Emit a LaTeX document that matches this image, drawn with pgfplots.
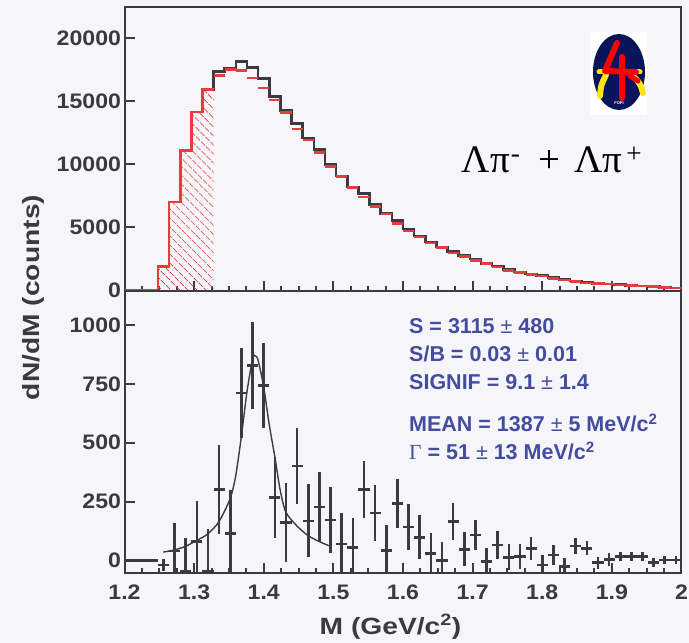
\documentclass[border=0pt]{standalone}
\usepackage{pgfplots}
\usepackage{pgfplotstable}
\pgfplotsset{compat=1.18}
\usetikzlibrary{patterns.meta}
\usepackage{fontspec}
\setmainfont{Liberation Sans}
\newfontfamily\tickfont{Liberation Sans}[FakeStretch=1.1]
\newfontfamily\labfont{Liberation Sans}[FakeStretch=1.2]
\newfontfamily\seriffont{Liberation Serif}
\definecolor{bg}{RGB}{246,246,250}
\definecolor{fr}{RGB}{58,58,64}
\definecolor{hred}{RGB}{232,60,60}
\definecolor{txtblue}{RGB}{68,76,160}
\definecolor{navy}{RGB}{10,20,90}
\definecolor{lyellow}{RGB}{250,230,20}

% top panel: data histogram (bin low edges, counts)
\pgfplotstableread{
x y
1.200 0
1.216 0
1.232 0
1.248 1900
1.264 7000
1.280 11100
1.296 14130
1.312 15890
1.328 17350
1.344 17600
1.360 18130
1.376 17660
1.392 16770
1.408 15370
1.424 14240
1.440 13200
1.456 12080
1.472 11150
1.488 9980
1.504 9080
1.520 8210
1.536 7680
1.552 6810
1.568 6100
1.584 5540
1.600 4880
1.616 4320
1.632 3860
1.648 3450
1.664 3100
1.680 2760
1.696 2500
1.712 2150
1.728 1946
1.744 1653
1.760 1471
1.776 1313
1.792 1179
1.808 1020
1.824 862
1.840 759
1.856 649
1.872 570
1.888 522
1.904 467
1.920 411
1.936 364
1.952 308
1.968 253
1.984 206
2.000 206
}\datahist

% top panel: background (bin centres, counts)
\pgfplotstableread{
x y
1.336 17040
1.352 17480
1.368 17400
1.384 16820
1.400 16020
1.416 15090
1.432 14070
1.448 12800
1.464 11920
1.480 10920
1.496 9820
1.512 9020
1.528 8160
1.544 7390
1.560 6630
1.576 6060
1.592 5320
1.608 4730
1.624 4230
1.640 3780
1.656 3420
1.672 2990
1.688 2710
1.704 2400
1.720 2120
1.736 1880
1.752 1610
1.768 1430
1.784 1270
1.800 1150
1.816 960
1.832 840
1.848 730
1.864 610
1.880 550
1.896 515
1.912 455
1.928 400
1.944 352
1.960 310
1.976 250
1.992 205
}\bghist

% bottom panel: signal (bin centres, counts, error)
\pgfplotstableread{
x y e
1.208 0 0
1.224 0 0
1.240 0 0
1.256 -20 25
1.272 40 118
1.288 -45 142
1.304 80 172
1.320 -45 177
1.336 300 188
1.352 115 185
1.368 711 190
1.384 827 185
1.400 742 181
1.416 268 172
1.432 162 167
1.448 400 161
1.464 168 155
1.480 226 148
1.496 172 141
1.512 70 133
1.528 54 125
1.544 300 121
1.560 201 117
1.576 41 111
1.592 241 105
1.608 141 97
1.624 98 94
1.640 30 85
1.656 -1 81
1.672 165 77
1.688 47 72
1.704 108 65
1.720 -6 60
1.736 65 60
1.752 13 55
1.768 16 52
1.784 51 48
1.800 -20 43
1.816 23 43
1.832 -27 38
1.848 61 33
1.864 51 30
1.880 -10 26
1.896 4 26
1.912 16 20
1.928 16 20
1.944 16 20
1.960 -10 18
1.976 1 17
1.992 1 16
}\sigdata

\pgfplotsset{
  panel/.style={
    scale only axis, width=557pt,
    xmin=1.2, xmax=2.0,
    scaled x ticks=false, scaled y ticks=false,
    axis line style={fr, line width=2pt},
    every tick/.style={fr, line width=2pt},
    major tick length=10pt, minor tick length=5pt,
    tick align=inside, tick pos=left,
    xtick={1.2,1.3,1.4,1.5,1.6,1.7,1.8,1.9,2.0},
    minor x tick num=3,
    ticklabel style={font=\tickfont\bfseries\fontsize{21}{21}\selectfont, text=fr},
    axis background/.style={fill=bg},
    clip=true,
  }
}

\begin{document}
\begin{tikzpicture}[x=1pt,y=1pt]
\fill[bg] (0,0) rectangle (689,643);

% ---------------- top panel
\begin{axis}[panel, at={(124.5pt,352.4pt)}, anchor=south west,
  height=283.3pt, ymin=0, ymax=22413,
  ytick={0,5000,10000,15000,20000},
  yticklabels={0,5000,10000,15000,20000},
  xticklabel=\empty]
  \addplot[draw=none, const plot, pattern={Lines[angle=-45,distance=6.5pt,line width=0.9pt]}, pattern color=hred]
    coordinates {(1.248,1900)(1.264,7000)(1.280,11100)(1.296,14130)(1.312,15890)(1.328,15890)} \closedcycle;
  \addplot[const plot, fr, line width=2.6pt] table[x=x,y=y] {\datahist};
  \addplot[const plot, hred, line width=2.6pt]
    coordinates {(1.200,0)(1.248,1900)(1.264,7000)(1.280,11100)(1.296,14130)(1.312,15890)(1.328,15890)};
  \addplot[only marks, mark=-, mark size=5.56pt, mark options={hred, line width=2.6pt}] table[x=x,y=y] {\bghist};
\end{axis}

% ---------------- bottom panel
\begin{axis}[panel, at={(124.5pt,69.7pt)}, anchor=south west,
  height=282.7pt, ymin=-55, ymax=1146,
  ytick={0,250,500,750,1000},
  yticklabels={0,250,500,750,1000},
  xticklabels={1.2,1.3,1.4,1.5,1.6,1.7,1.8,1.9,2},
  xticklabel shift=8pt]
  \addplot[fr, line width=1.4pt, smooth, tension=0.45] coordinates {
    (1.2558,35)(1.2726,45)(1.2880,60)(1.3038,85)(1.3196,112)(1.3358,165)
    (1.3517,262)(1.3598,360)(1.3680,530)(1.3761,720)(1.3843,860)(1.3880,868)
    (1.3919,850)(1.4000,735)(1.4077,580)(1.4159,440)(1.4235,300)(1.4317,205)
    (1.4480,145)(1.4638,105)(1.4796,80)(1.4955,60)};
  \addplot[only marks, mark=-, mark size=5.56pt, mark options={fr, line width=2.6pt},
    error bars/.cd, y dir=both, y explicit, error mark=none,
    error bar style={fr, line width=2.6pt}]
    table[x=x, y=y, y error=e] {\sigdata};
\end{axis}

% ---------------- texts
\node[anchor=base west, inner sep=0, font=\seriffont\fontsize{39}{39}\selectfont]
  at (461.7,470.3) {Λπ\kern1pt\raisebox{1pt}{\textsuperscript{-}}\kern18pt+\kern14pt Λπ\kern4pt\raisebox{1pt}{\textsuperscript{+}}};

\begin{scope}[every node/.style={anchor=base west, inner sep=0, text=txtblue,
    font=\bfseries\fontsize{21.5}{21.5}\selectfont}]
\node at (409,309.7) {S = 3115 {\mdseries ±} 480};
\node at (409,281.3) {S/B = 0.03 {\mdseries ±} 0.01};
\node at (409,253.0) {SIGNIF = 9.1 {\mdseries ±} 1.4};
\node at (409,211.3) {MEAN = 1387 {\mdseries ±} 5 MeV/c\textsuperscript{2}};
\node at (409,183.0) {{\seriffont\mdseries Γ} = 51 {\mdseries ±} 13 MeV/c\textsuperscript{2}};
\end{scope}

\node[rotate=90, inner sep=0, text=fr, font=\labfont\bfseries\fontsize{23.5}{23.5}\selectfont]
  at (33.3,345.5) {dN/dM (counts)};
\node[anchor=base, inner sep=0, text=fr, font=\labfont\bfseries\fontsize{23.5}{23.5}\selectfont]
  at (390.5,8) {M (GeV/c\textsuperscript{2})};

% ---------------- logo
\fill[white] (590,528) rectangle (647,611);
\fill[navy] (619,571) ellipse [x radius=26, y radius=38];
\draw[lyellow, line width=6pt, line cap=round] (606,568) .. controls (601,558) .. (600,547);
\draw[lyellow, line width=6pt, line cap=round] (632,568) .. controls (640,560) .. (643,550);
\draw[lyellow, line width=5pt, line cap=round] (599,571) -- (640,571);
\draw[red, line width=6pt, line cap=round, line join=round] (617,600) -- (605,572) -- (636,571);
\draw[red, line width=6pt, line cap=round] (622,586) -- (622,545);
\draw[red, line width=5pt, line cap=round] (630,567) -- (638,562);
\node[text=white, font=\fontsize{4}{4}\selectfont\bfseries] at (619,540) {FOPI};

\pgfresetboundingbox
\path[use as bounding box] (0,0) rectangle (689,643);
\end{tikzpicture}
\end{document}
